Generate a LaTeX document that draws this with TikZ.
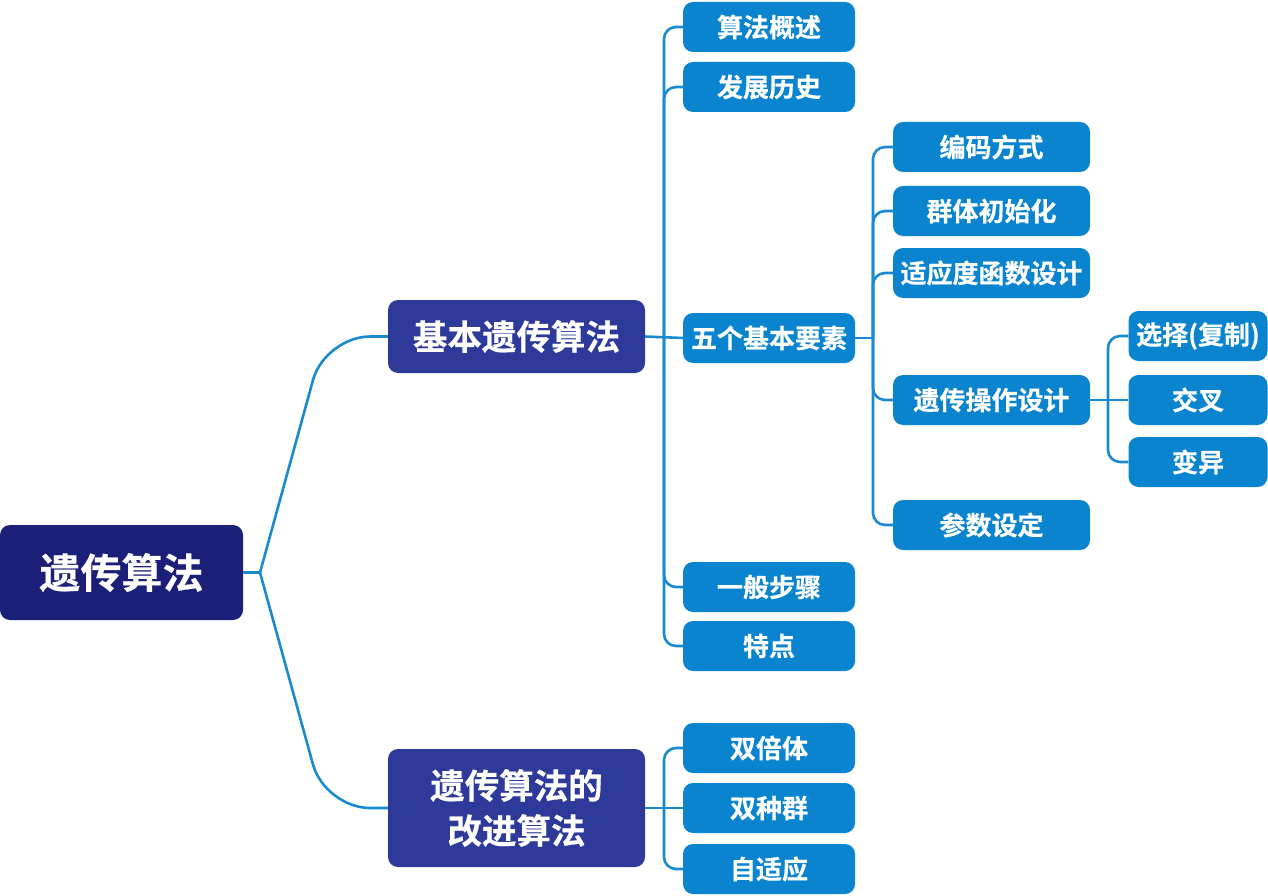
\documentclass[tikz,border=0pt]{standalone}
\usepackage{fontspec}
\newfontfamily\cjk{Noto Sans CJK SC}[BoldFont={Noto Sans CJK SC Bold}, BoldFeatures={FakeBold=0.4}]
\definecolor{rootc}{HTML}{1B1F78}
\definecolor{lonec}{HTML}{2E3A9A}
\definecolor{boxc}{HTML}{0A84CE}
\definecolor{linec}{HTML}{1A8AD0}
\begin{document}
\begin{tikzpicture}[x=1pt,y=-1pt,
  base/.style={rounded corners=10pt, inner sep=0pt, text=white, align=center, font=\cjk\bfseries},
  rootbox/.style={base, fill=rootc, minimum width=243pt, minimum height=95pt, font=\cjk\bfseries\fontsize{41}{46}\selectfont},
  onebox/.style={base, fill=lonec, minimum width=257pt, font=\cjk\bfseries\fontsize{34.5}{45}\selectfont},
  twobox/.style={base, fill=boxc, minimum width=172pt, minimum height=50pt, font=\cjk\bfseries\fontsize{26}{30}\selectfont},
  threebox/.style={base, fill=boxc, minimum width=197pt, minimum height=50pt, font=\cjk\bfseries\fontsize{26}{30}\selectfont},
  fourbox/.style={base, fill=boxc, minimum width=139pt, minimum height=50pt, font=\cjk\bfseries\fontsize{26}{30}\selectfont},
  conn/.style={draw=linec, line width=2.6pt},
  branchline/.style={conn, rounded corners=12pt}
]
\useasboundingbox (0,0) rectangle (1268,896);
% nodes
\node[rootbox] (root) at (121.5,572.5) {遗传算法};
\node[onebox, minimum height=73pt] (basic) at (516.5,336.5) {基本遗传算法};
\node[onebox, minimum height=118pt] (impr) at (516.5,808) {遗传算法的\\改进算法};

\node[twobox] (gs) at (769,27) {算法概述};
\node[twobox] (fz) at (769,87) {发展历史};
\node[twobox] (wg) at (769,338) {五个基本要素};
\node[twobox] (yb) at (769,587) {一般步骤};
\node[twobox] (td) at (769,646) {特点};
\node[twobox] (sb) at (769,748) {双倍体};
\node[twobox] (sz) at (769,808) {双种群};
\node[twobox] (zs) at (769,869) {自适应};

\node[threebox] (bm) at (991.5,147) {编码方式};
\node[threebox] (qt) at (991.5,211) {群体初始化};
\node[threebox] (sy) at (991.5,273) {适应度函数设计};
\node[threebox] (yc) at (991.5,400) {遗传操作设计};
\node[threebox] (cs) at (991.5,525) {参数设定};

\node[fourbox] (xz) at (1198,336) {选择(复制)};
\node[fourbox] (jc) at (1198,400) {交叉};
\node[fourbox] (by) at (1198,462) {变异};

% junctions
\coordinate (j0) at (260,572.5);
\coordinate (j1) at (664,336.5);
\coordinate (j2) at (664,808);
\coordinate (j3) at (873,338);
\coordinate (j4) at (1108,400);

% root connectors
\draw[conn] (root.east) -- (j0);
\draw[conn, rounded corners=45pt] (j0) -- (325,336.5) -- (basic.west);
\draw[conn, rounded corners=45pt] (j0) -- (325,808) -- (impr.west);

% level 2
\draw[conn] (basic.east) -- (wg.west);
\foreach \c in {gs,fz,yb,td} \draw[branchline] (j1) |- (\c.west);
\draw[conn] (impr.east) -- (sz.west);
\foreach \c in {sb,zs} \draw[branchline] (j2) |- (\c.west);

% level 3
\draw[conn] (wg.east) -- (j3);
\foreach \c in {bm,qt,sy,yc,cs} \draw[branchline] (j3) |- (\c.west);

% level 4
\draw[conn] (yc.east) -- (jc.west);
\foreach \c in {xz,by} \draw[branchline] (j4) |- (\c.west);
\end{tikzpicture}
\end{document}
